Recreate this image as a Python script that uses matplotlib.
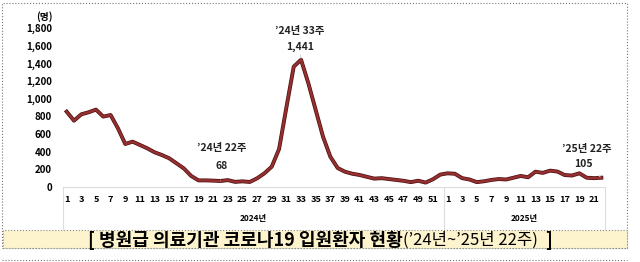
import matplotlib.pyplot as plt
from matplotlib.patches import Rectangle
import numpy as np

plt.rcParams['font.family'] = ['Noto Sans CJK KR', 'DejaVu Sans']

# 주별 입원환자 수 (2024년 1~52주, 2025년 1~22주)
weeks_2024 = list(range(1, 53))
weeks_2025 = list(range(1, 23))
values_2024 = [853, 751, 823, 846, 876, 797, 815, 665, 487, 513,
               476, 438, 393, 362, 325, 268, 210, 125, 75, 75,
               72, 68, 78, 58, 64, 57, 98, 155, 230, 430,
               900, 1362, 1441, 1174, 872, 570, 343, 215, 173, 150,
               136, 115, 95, 100, 90, 80, 70, 55, 71, 50,
               87, 140]
values_2025 = [155, 150, 100, 85, 55, 65, 80, 90, 85, 105,
               125, 110, 173, 160, 185, 175, 135, 130, 155, 105,
               100, 105]
year_labels = ['2024년', '2025년']
y_ticks = [0, 200, 400, 600, 800, 1000, 1200, 1400, 1600, 1800]

values = values_2024 + values_2025
week_nums = weeks_2024 + weeks_2025
x = np.arange(len(values))

fig = plt.figure(figsize=(6.4, 2.62), dpi=100)
W, H = 640, 262

# 전체 테두리 (점선)
fig.patches.append(Rectangle((2 / W, 1 - 248 / H), 625 / W, 245 / H, transform=fig.transFigure,
                             fill=False, ls=':', lw=0.8, ec='#777777'))
# 제목 띠
fig.patches.append(Rectangle((3 / W, 1 - 248 / H), 624 / W, 18 / H, transform=fig.transFigure,
                             fc='#fdf3cc', ec='#888888', ls=':', lw=0.8))
fig.add_artist(plt.Line2D([2 / W, 627 / W], [1 - 260 / H, 1 - 260 / H], transform=fig.transFigure,
                          ls=':', lw=0.8, color='#777777'))

ax = fig.add_axes([63 / W, 1 - 187 / H, 542 / W, 159 / H])
ax.plot(x, values, color='#4a1010', lw=2.8, solid_joinstyle='round')
ax.plot(x, values, color='#962f2f', lw=1.8, solid_joinstyle='round')

ax.set_xlim(-0.5, len(values) - 0.5)
ax.set_ylim(0, 1800)
ax.set_yticks(y_ticks)
ax.set_yticklabels([f'{v:,}' for v in y_ticks], fontsize=7, fontweight='bold')
ax.set_xticks(x)
ax.set_xticklabels([str(w) if w % 2 == 1 else '' for w in week_nums], fontsize=6.6, fontweight='bold')
ax.tick_params(axis='y', length=0, pad=8)
ax.tick_params(axis='x', length=0, pad=6)
for s in ['top', 'right', 'left']:
    ax.spines[s].set_visible(False)
ax.spines['bottom'].set_color('#dddddd')
ax.spines['bottom'].set_linewidth(0.8)

# 연도 구분선
n24 = len(values_2024)
for xv in [-0.5, n24 - 0.5, len(values) - 0.5]:
    ax.plot([xv, xv], [0, -0.27], transform=ax.get_xaxis_transform(), clip_on=False,
            color='#dddddd', lw=0.8)
ax.text((n24 - 1) / 2, -0.2, year_labels[0], transform=ax.get_xaxis_transform(),
        ha='center', va='center', fontsize=6, fontweight='bold')
ax.text(n24 + (len(values_2025) - 1) / 2, -0.2, year_labels[1], transform=ax.get_xaxis_transform(),
        ha='center', va='center', fontsize=6, fontweight='bold')

ax.text(-0.02, 1.07, '(명)', transform=ax.transAxes, ha='right', va='center',
        fontsize=7, fontweight='bold')

# 주요 지점 표시
notes = [(21, "’24년 22주", (1, 15), (1, 33)),
         (32, "’24년 33주", (-1, 13), (-1, 29)),
         (len(values) - 1, "’25년 22주", (-18, 14), (-15, 29))]
for i, lab, off_v, off_t in notes:
    ax.annotate(f'{values[i]:,}', (x[i], values[i]), xytext=off_v, textcoords='offset pixels',
                ha='center', va='center', fontsize=7.5, fontweight='bold', color='#222222',
                arrowprops=dict(arrowstyle='-', color='#cccccc', lw=0.6, shrinkA=5, shrinkB=1))
    ax.annotate(lab, (x[i], values[i]), xytext=off_t, textcoords='offset pixels',
                ha='center', va='center', fontsize=7.5, fontweight='bold', color='#222222')

# 제목 (굵은 부분 + 괄호 부분 이어 붙이기)
r = fig.canvas.get_renderer()
t1 = fig.text(88 / W, 1 - 240 / H, '[ 병원급 의료기관 코로나19 입원환자 현황', ha='left', va='center',
              fontsize=13, fontweight='bold')
x1 = t1.get_window_extent(r).x1
t2 = fig.text(x1 / W, 1 - 240 / H, '(’24년~’25년 22주)', ha='left', va='center', fontsize=12)
x2 = t2.get_window_extent(r).x1
fig.text((x2 + 8) / W, 1 - 240 / H, ']', ha='left', va='center', fontsize=13, fontweight='bold')

fig.savefig('out.png', dpi=100)
